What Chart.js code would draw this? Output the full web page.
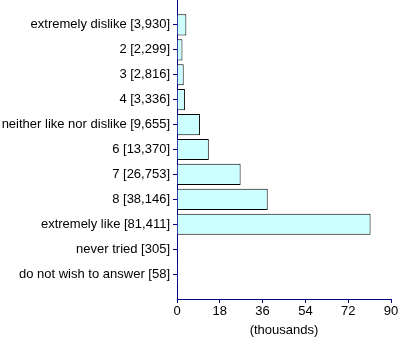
<!DOCTYPE html>
<html>
<head>
<meta charset="utf-8">
<script src="https://cdn.jsdelivr.net/npm/chart.js@4.4.1/dist/chart.umd.min.js"></script>
<style>
  html, body { margin: 0; padding: 0; background: #fff; }
</style>
</head>
<body>
<canvas id="ratingChart" width="400" height="342"></canvas>
<script>
const categories = ['extremely dislike', '2', '3', '4', 'neither like nor dislike', '6', '7', '8', 'extremely like', 'never tried', 'do not wish to answer'];
const counts = [3930, 2299, 2816, 3336, 9655, 13370, 26753, 38146, 81411, 305, 58];
const xTicks = [0, 18, 36, 54, 72, 90];

const axisColor = '#000080';

// blank slot above and below so the categories sit on whole-number positions
const labels = ['', ...categories.map((c, i) => `${c} [${counts[i].toLocaleString('en-US')}]`), ''];
const values = [null, ...counts.map(v => v / 1000), null];

Chart.defaults.font.family = '"Liberation Sans", Arial, sans-serif';
Chart.defaults.font.size = 13;
Chart.defaults.color = '#000';

const ctx = document.getElementById('ratingChart').getContext('2d');
new Chart(ctx, {
    type: 'bar',
    data: {
        labels: labels,
        datasets: [{
            data: values,
            backgroundColor: '#ccffff',
            borderColor: '#000',
            borderWidth: 1,
            categoryPercentage: 1,
            barPercentage: 0.85
        }]
    },
    options: {
        indexAxis: 'y',
        responsive: false,
        animation: false,
        layout: { padding: { top: 0, right: 9, bottom: 0, left: 0 } },
        plugins: {
            legend: { display: false },
            tooltip: { enabled: false }
        },
        scales: {
            y: {
                offset: false,
                z: 1,
                grid: {
                    offset: false,
                    drawOnChartArea: false,
                    drawTicks: true,
                    tickLength: 4,
                    // no tick mark on the two blank slots
                    color: c => (labels[c.index] ? axisColor : 'rgba(0,0,0,0)')
                },
                border: { color: axisColor, width: 1 },
                ticks: { padding: 3, autoSkip: false },
                afterFit: scale => {
                    scale.width = 177;
                    scale.paddingTop = 0;
                    scale.paddingBottom = 0;
                }
            },
            x: {
                min: xTicks[0],
                max: xTicks[xTicks.length - 1],
                z: 1,
                grid: {
                    drawOnChartArea: false,
                    drawTicks: true,
                    tickLength: 4,
                    color: axisColor
                },
                border: { color: axisColor, width: 1 },
                afterBuildTicks: scale => {
                    scale.ticks = xTicks.map(v => ({ value: v }));
                },
                ticks: { padding: 1, maxRotation: 0 },
                title: {
                    display: true,
                    text: '(thousands)',
                    padding: { top: 4, bottom: 4 }
                },
                afterFit: scale => {
                    scale.height = 43;
                }
            }
        }
    }
});
</script>
</body>
</html>
